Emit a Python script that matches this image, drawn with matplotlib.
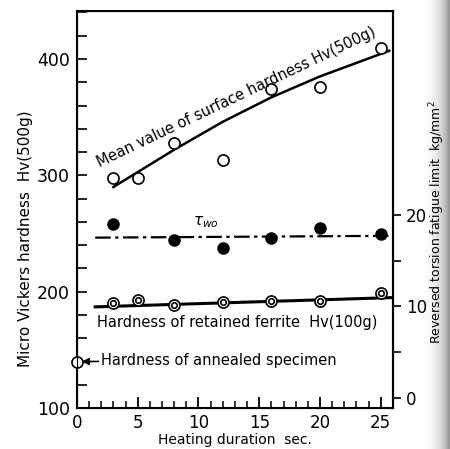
import matplotlib.pyplot as plt
import numpy as np

# surface hardness Hv(500g), open circles
x_surf = [3, 5, 8, 12, 16, 20, 25]
hv_surf = [298, 298, 328, 313, 374, 376, 409]
# fitted curve for surface hardness
x_surf_fit = [3, 8, 12, 16, 20, 25.7]
hv_surf_fit = [290, 322, 346, 367, 385, 407]

# reversed torsion fatigue limit (right axis), filled circles
x_two = [3, 8, 12, 16, 20, 25]
two = [19.0, 17.2, 16.4, 17.5, 18.6, 17.9]
x_two_fit = [1.5, 26]
two_fit = [17.5, 17.7]

# hardness of retained ferrite Hv(100g), double circles
x_fer = [3, 5, 8, 12, 16, 20, 25]
hv_fer = [190, 193, 189, 191, 192, 192, 199]
x_fer_fit = [1.5, 26]
hv_fer_fit = [187, 195]

# annealed specimen
x_ann = [0]
hv_ann = [140]

plt.rcParams['font.family'] = 'DejaVu Sans'
fig = plt.figure(figsize=(4.5, 4.49), dpi=100)
ax = fig.add_axes([0.171, 0.091, 0.702, 0.884])

# scan shading along the right edge
grad = np.linspace(0, 1, 200)[None, :] ** 2
bg = fig.add_axes([0.93, 0, 0.07, 1], zorder=-5)
bg.imshow(grad, cmap='Greys', vmin=0, vmax=1.8, aspect='auto', extent=[0, 1, 0, 1])
bg.axis('off')

ax.plot(x_surf_fit, hv_surf_fit, color='black', lw=1.8)
ax.plot(x_surf, hv_surf, 'o', ms=8, mfc='white', mec='black', mew=1.2, clip_on=False)

ax.plot(x_fer_fit, hv_fer_fit, color='black', lw=2.2)
ax.plot(x_fer, hv_fer, 'o', ms=8, mfc='white', mec='black', mew=1.2, zorder=4)
ax.plot(x_fer, hv_fer, 'o', ms=4, mfc='white', mec='black', mew=1.2, zorder=5)

ax.plot(x_ann, hv_ann, 'o', ms=8, mfc='white', mec='black', mew=1.2, clip_on=False, zorder=5)

ax.set_xlim(0, 26)
ax.set_ylim(100, 441)
ax.set_xticks(np.arange(0, 26, 5))
ax.set_xticks(np.arange(0, 26, 1), minor=True)
ax.set_yticks([100, 200, 300, 400])
ax.set_yticks(np.arange(100, 441, 20), minor=True)
ax.tick_params(axis='x', which='major', direction='in', length=8, width=1.3, labelsize=12, pad=4)
ax.tick_params(axis='x', which='minor', direction='in', length=5, width=1.1)
ax.tick_params(axis='y', which='both', direction='in', length=7, width=1.2, labelsize=12.5, pad=5)
for s in ax.spines.values():
    s.set_linewidth(1.5)

ax.set_xlabel('Heating duration  sec.', fontsize=10, labelpad=1)
ax.set_ylabel('Micro Vickers hardness  Hv(500g)', fontsize=11)
ax.yaxis.set_label_coords(-0.14, 0.426)

ax2 = ax.twinx()
ax2.set_ylim(-1.1, 42.2)
ax2.set_yticks([0, 10, 20])
ax2.set_yticks(np.arange(0, 21, 5), minor=True)
ax2.tick_params(axis='y', which='both', direction='out', length=6, width=1.2, labelsize=12)
ax2.spines['right'].set_linewidth(1.5)
ax2.plot(x_two_fit, two_fit, color='black', lw=1.6, dashes=[7, 2, 1.5, 2])
ax2.plot(x_two, two, 'o', ms=8, color='black')
ax2.set_ylabel('Reversed torsion fatigue limit  kg/mm$^2$', fontsize=9)
ax2.yaxis.set_label_coords(1.11, 0.468)

ax.text(13.1, 367, 'Mean value of surface hardness Hv(500g)', fontsize=10.5,
        rotation=25.5, rotation_mode='anchor', ha='center', va='center')
ax2.text(10.6, 19.2, r'$\tau_{wo}$', fontsize=11, ha='center', va='center')
ax.text(13.2, 174, 'Hardness of retained ferrite  Hv(100g)', fontsize=10.5,
        ha='center', va='center')
ax.annotate('Hardness of annealed specimen', xy=(0.4, 140), xytext=(2.0, 141),
            fontsize=10.5, va='center', ha='left',
            arrowprops=dict(arrowstyle='-|>', color='black', lw=1.2, mutation_scale=10,
                            shrinkA=0, shrinkB=0))

fig.savefig('out.png', dpi=100)
